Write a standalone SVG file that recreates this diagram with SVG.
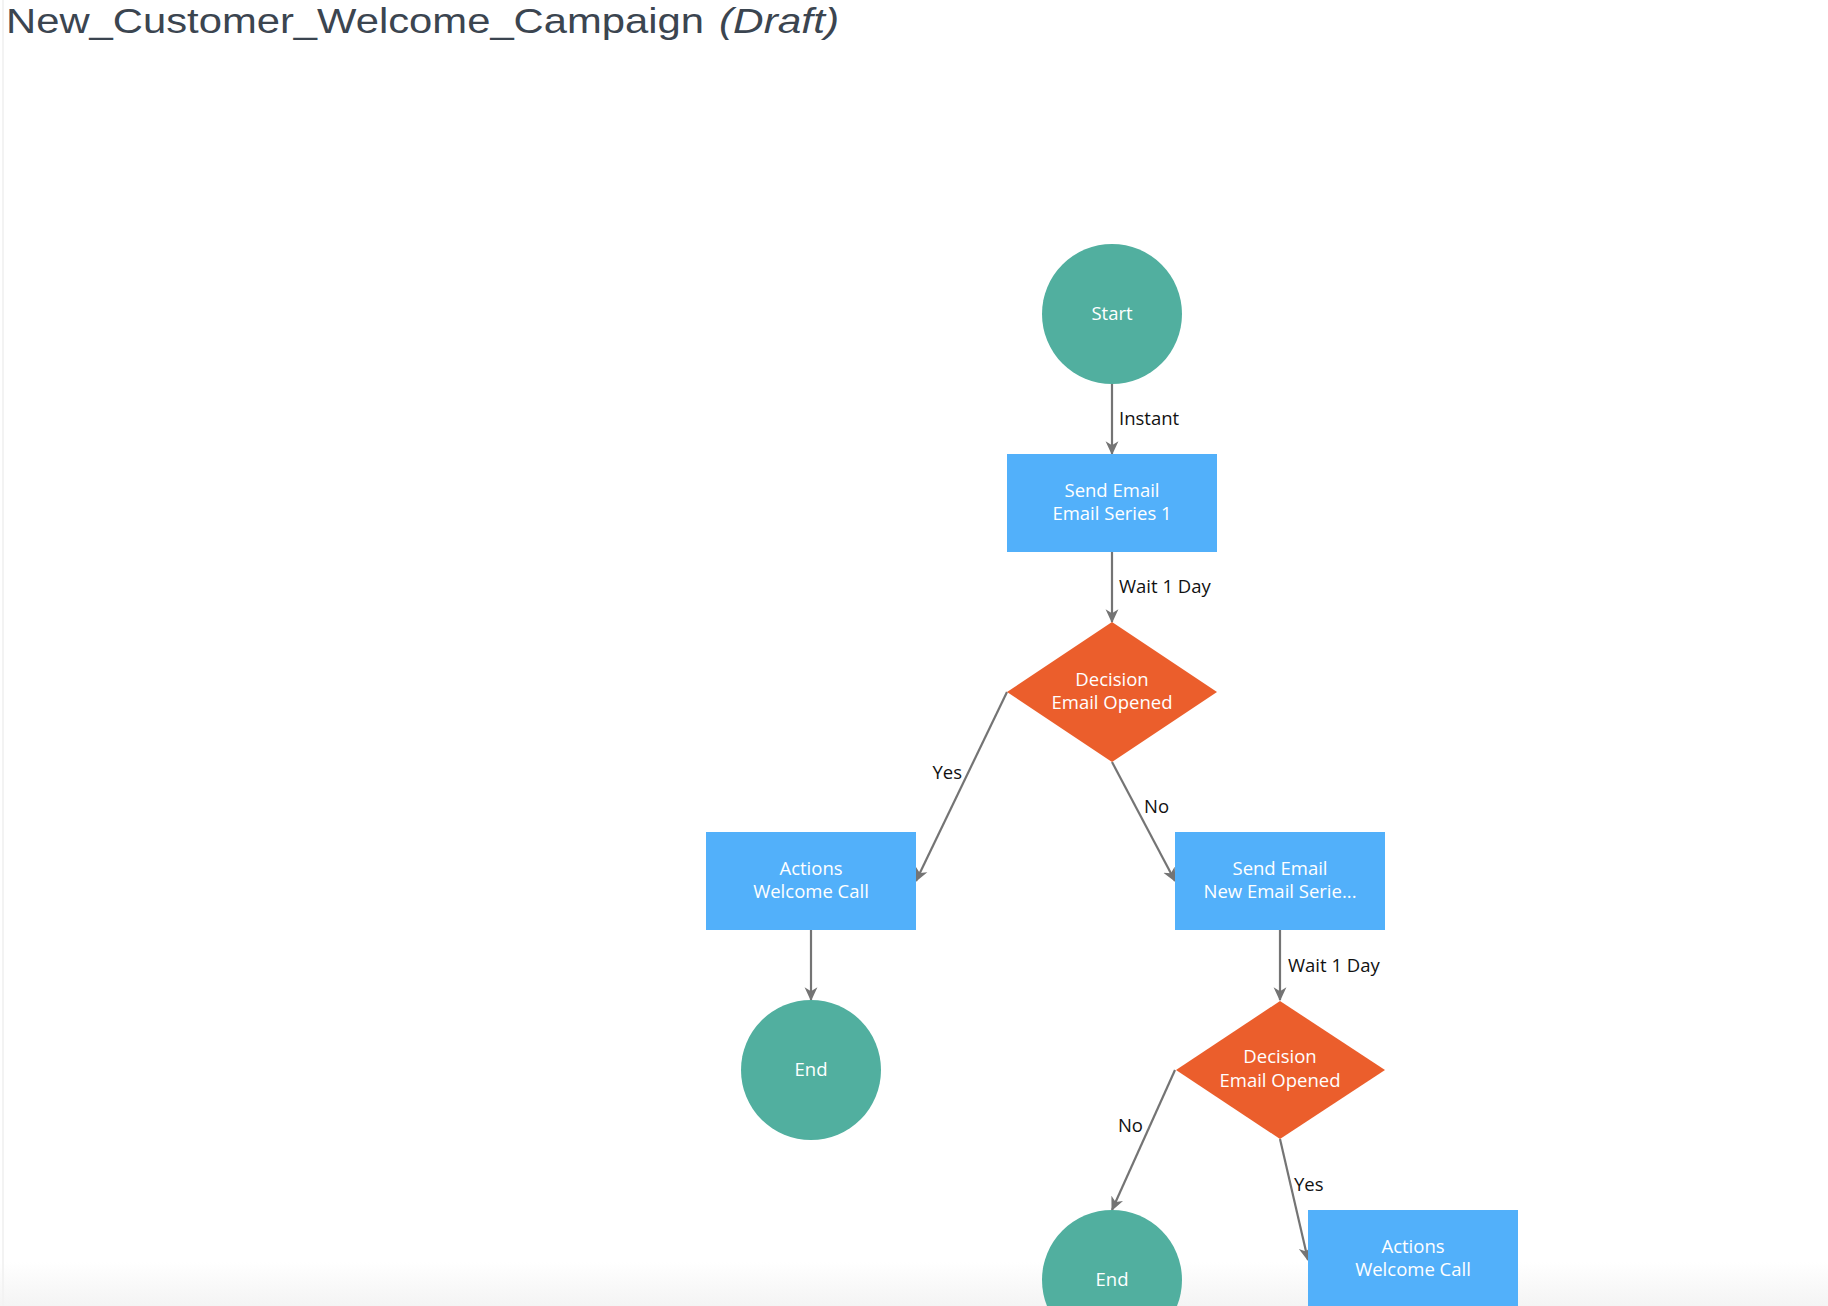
<svg xmlns="http://www.w3.org/2000/svg" width="1828" height="1306" viewBox="0 0 1828 1306">
<defs>
<linearGradient id="bottomFade" x1="0" y1="0" x2="0" y2="1">
<stop offset="0" stop-color="#ffffff"/>
<stop offset="1" stop-color="#f4f4f4"/>
</linearGradient>
<marker id="arrow" markerUnits="userSpaceOnUse" markerWidth="14" markerHeight="14" viewBox="0 0 12 12" refX="11" refY="6" orient="auto">
<path d="M0,0.5 L12,6 L0,11.5 L3.5,6 z" fill="#747474"/>
</marker>
<style>
.title{font-family:"Liberation Sans","Open Sans",sans-serif;font-size:35px;fill:#3b4550}
.lbl{font-family:"Open Sans","Noto Sans","Liberation Sans",sans-serif;font-size:18.5px;font-weight:500;fill:#ffffff;text-anchor:middle}
.elbl{font-family:"Open Sans","Noto Sans","Liberation Sans",sans-serif;font-size:18.5px;fill:#111111}
.circ{fill:#51af9f}
.box{fill:#52b0fa}
.dia{fill:#eb5e2c}
.edge{stroke:#747474;stroke-width:2.2;fill:none;marker-end:url(#arrow)}
</style>
</defs>
<rect x="0" y="0" width="1828" height="1306" fill="#ffffff"/>
<rect x="0" y="1262" width="1828" height="44" fill="url(#bottomFade)"/>
<line x1="3" y1="0" x2="3" y2="1306" stroke="#f3f3f3" stroke-width="2"/>
<text class="title" x="6" y="33"><tspan textLength="698" lengthAdjust="spacingAndGlyphs">New_Customer_Welcome_Campaign</tspan><tspan x="719" font-style="italic" textLength="120" lengthAdjust="spacingAndGlyphs">(Draft)</tspan></text>

<g id="connectors">
<line class="edge" x1="1112" y1="384" x2="1112" y2="454"/>
<text class="elbl" x="1119" y="425">Instant</text>
<line class="edge" x1="1112" y1="552" x2="1112" y2="622"/>
<text class="elbl" x="1119" y="593">Wait 1 Day</text>
<line class="edge" x1="1007" y1="692" x2="916" y2="881"/>
<text class="elbl" x="962" y="779" text-anchor="end">Yes</text>
<line class="edge" x1="1112" y1="762" x2="1175" y2="881"/>
<text class="elbl" x="1144" y="813">No</text>
<line class="edge" x1="811" y1="930" x2="811" y2="1000"/>
<line class="edge" x1="1280" y1="930" x2="1280" y2="1000"/>
<text class="elbl" x="1288" y="972">Wait 1 Day</text>
<line class="edge" x1="1175" y1="1070" x2="1112" y2="1210"/>
<text class="elbl" x="1143" y="1132" text-anchor="end">No</text>
<line class="edge" x1="1280" y1="1139" x2="1308" y2="1260"/>
<text class="elbl" x="1294" y="1191">Yes</text>
</g>

<g id="start">
<circle class="circ" cx="1112" cy="314" r="70"/>
<text class="lbl" x="1112" y="320">Start</text>
</g>
<g id="send-email-1">
<rect class="box" x="1007" y="454" width="210" height="98"/>
<text class="lbl" x="1112" y="497">Send Email</text>
<text class="lbl" x="1112" y="520">Email Series 1</text>
</g>
<g id="decision-1">
<polygon class="dia" points="1112,622 1217,692 1112,762 1007,692"/>
<text class="lbl" x="1112" y="686">Decision</text>
<text class="lbl" x="1112" y="709">Email Opened</text>
</g>
<g id="actions-1">
<rect class="box" x="706" y="832" width="210" height="98"/>
<text class="lbl" x="811" y="875">Actions</text>
<text class="lbl" x="811" y="898">Welcome Call</text>
</g>
<g id="send-email-2">
<rect class="box" x="1175" y="832" width="210" height="98"/>
<text class="lbl" x="1280" y="875">Send Email</text>
<text class="lbl" x="1280" y="898">New Email Serie...</text>
</g>
<g id="end-1">
<circle class="circ" cx="811" cy="1070" r="70"/>
<text class="lbl" x="811" y="1076">End</text>
</g>
<g id="decision-2">
<polygon class="dia" points="1280,1001 1385,1070 1280,1139 1176,1070"/>
<text class="lbl" x="1280" y="1063">Decision</text>
<text class="lbl" x="1280" y="1087">Email Opened</text>
</g>
<g id="end-2">
<circle class="circ" cx="1112" cy="1280" r="70"/>
<text class="lbl" x="1112" y="1286">End</text>
</g>
<g id="actions-2">
<rect class="box" x="1308" y="1210" width="210" height="98"/>
<text class="lbl" x="1413" y="1253">Actions</text>
<text class="lbl" x="1413" y="1276">Welcome Call</text>
</g>
</svg>
